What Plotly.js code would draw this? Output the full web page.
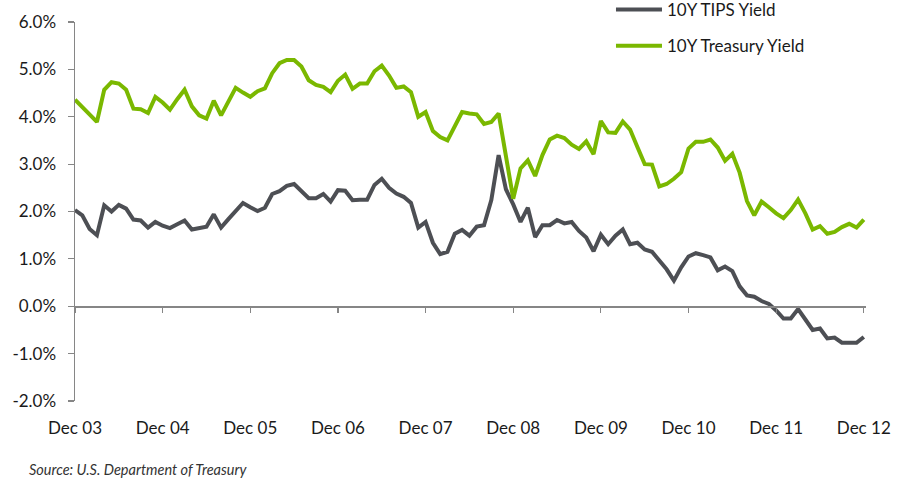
<!DOCTYPE html>
<html>
<head>
<meta charset="utf-8">
<script src="https://cdn.plot.ly/plotly-3.0.1.min.js"></script>
<style>html,body{margin:0;padding:0;background:#fff;}#chart{width:908px;height:482px;}</style>
</head>
<body>
<div id="chart"></div>
<script>
// Monthly yields, Dec 2003 .. Dec 2012 (percent)
const tipsYield = [
  2.03, 1.92, 1.63, 1.50, 2.13, 2.00, 2.14, 2.06, 1.83, 1.81, 1.66, 1.78, 1.70,
  1.65, 1.73, 1.81, 1.62, 1.66, 1.68, 1.94, 1.66, 1.84, 2.01, 2.18, 2.09,
  2.01, 2.08, 2.37, 2.43, 2.54, 2.58, 2.42, 2.28, 2.28, 2.37, 2.21, 2.45,
  2.44, 2.24, 2.25, 2.25, 2.56, 2.69, 2.50, 2.38, 2.31, 2.18, 1.66, 1.78,
  1.34, 1.10, 1.15, 1.53, 1.61, 1.49, 1.68, 1.71, 2.24, 3.19, 2.47, 2.15,
  1.78, 2.08, 1.46, 1.71, 1.71, 1.82, 1.75, 1.78, 1.59, 1.45, 1.16, 1.51,
  1.31, 1.49, 1.62, 1.31, 1.34, 1.20, 1.15, 0.97, 0.78, 0.54, 0.82, 1.05,
  1.12, 1.08, 1.03, 0.76, 0.84, 0.74, 0.42, 0.23, 0.20, 0.11, 0.05, -0.09,
  -0.26, -0.26, -0.06, -0.28, -0.50, -0.47, -0.68, -0.66, -0.77, -0.77, -0.77, -0.65
];
const treasuryYield = [
  4.36, 4.20, 4.05, 3.89, 4.57, 4.73, 4.70, 4.57, 4.17, 4.16, 4.08, 4.42, 4.30,
  4.15, 4.37, 4.57, 4.22, 4.03, 3.96, 4.34, 4.03, 4.32, 4.61, 4.51, 4.42,
  4.54, 4.60, 4.92, 5.13, 5.20, 5.20, 5.06, 4.77, 4.67, 4.63, 4.52, 4.76,
  4.89, 4.59, 4.70, 4.70, 4.96, 5.08, 4.87, 4.61, 4.64, 4.52, 4.00, 4.10,
  3.70, 3.57, 3.50, 3.80, 4.10, 4.07, 4.05, 3.85, 3.89, 4.07, 3.16, 2.27,
  2.91, 3.08, 2.75, 3.19, 3.52, 3.60, 3.55, 3.41, 3.32, 3.48, 3.21, 3.91,
  3.67, 3.66, 3.90, 3.73, 3.36, 3.00, 2.99, 2.53, 2.58, 2.69, 2.83, 3.33,
  3.47, 3.47, 3.52, 3.35, 3.07, 3.22, 2.82, 2.22, 1.92, 2.21, 2.09, 1.96,
  1.86, 2.03, 2.25, 1.96, 1.62, 1.69, 1.53, 1.57, 1.67, 1.74, 1.66, 1.83
];
const seriesNames = ["10Y TIPS Yield", "10Y Treasury Yield"];
const xTickLabels = ["Dec 03", "Dec 04", "Dec 05", "Dec 06", "Dec 07", "Dec 08", "Dec 09", "Dec 10", "Dec 11", "Dec 12"];
const yTickValues = [-2, -1, 0, 1, 2, 3, 4, 5, 6];
const yTickLabels = ["-2.0%", "-1.0%", "0.0%", "1.0%", "2.0%", "3.0%", "4.0%", "5.0%", "6.0%"];
const sourceNote = "Source: U.S. Department of Treasury";

const monthIdx = tipsYield.map((_, i) => i);
const xTickVals = xTickLabels.map((_, k) => k * 12);

const FONT = "Lato, 'Open Sans', sans-serif";
const AX = "#868686";

const traces = [
  {x: monthIdx, y: tipsYield, name: seriesNames[0], type: "scatter", mode: "lines",
   xaxis: "x", yaxis: "y", legendgroup: "a",
   line: {color: "#4d4f54", width: 4}},
  {x: monthIdx, y: treasuryYield, name: seriesNames[1], type: "scatter", mode: "lines",
   xaxis: "x2", yaxis: "y", legendgroup: "b",
   line: {color: "#7ab800", width: 4}}
];

const layout = {
  width: 908, height: 482,
  margin: {l: 75, r: 42, t: 22, b: 81, autoexpand: false},
  paper_bgcolor: "#fff", plot_bgcolor: "#fff",
  font: {family: FONT, size: 17, color: "#1a1a1a"},
  showlegend: true,
  legend: {xref: "paper", yref: "paper", x: 0.6776, y: 1.079, xanchor: "left", yanchor: "top",
           bgcolor: "rgba(0,0,0,0)", font: {family: FONT, size: 17, color: "#1a1a1a"},
           traceorder: "grouped", tracegroupgap: 11, itemwidth: 46},
  xaxis: {range: [0, 108.3], anchor: "free", position: 0.25, showline: true, linecolor: AX, linewidth: 1.5,
          ticks: "outside", ticklen: 5, tickwidth: 1.2, tickcolor: AX, tickvals: xTickVals,
          showticklabels: false, showgrid: false, zeroline: false, fixedrange: true},
  xaxis2: {overlaying: "x", matches: "x", anchor: "y", side: "bottom", showline: false, ticks: "",
           tickvals: xTickVals, ticktext: xTickLabels, showgrid: false, zeroline: false,
           ticklabelstandoff: 15, tickfont: {family: FONT, size: 17, color: "#1a1a1a"}},
  yaxis: {range: [-2, 6], tickvals: yTickValues, ticktext: yTickLabels, showline: true, linecolor: AX, linewidth: 1.5,
          ticks: "outside", ticklen: 6, tickwidth: 1.2, tickcolor: AX, showgrid: false, zeroline: false,
          ticklabelstandoff: 8, tickfont: {family: FONT, size: 17, color: "#1a1a1a"}},
  annotations: [{xref: "paper", yref: "paper", x: -0.0607, y: -0.182, xanchor: "left", yanchor: "middle",
                 text: "<i>" + sourceNote + "</i>", showarrow: false,
                 font: {family: FONT, size: 14.5, color: "#333"}}]
};

Plotly.newPlot("chart", traces, layout, {displayModeBar: false, staticPlot: true});
</script>
</body>
</html>
